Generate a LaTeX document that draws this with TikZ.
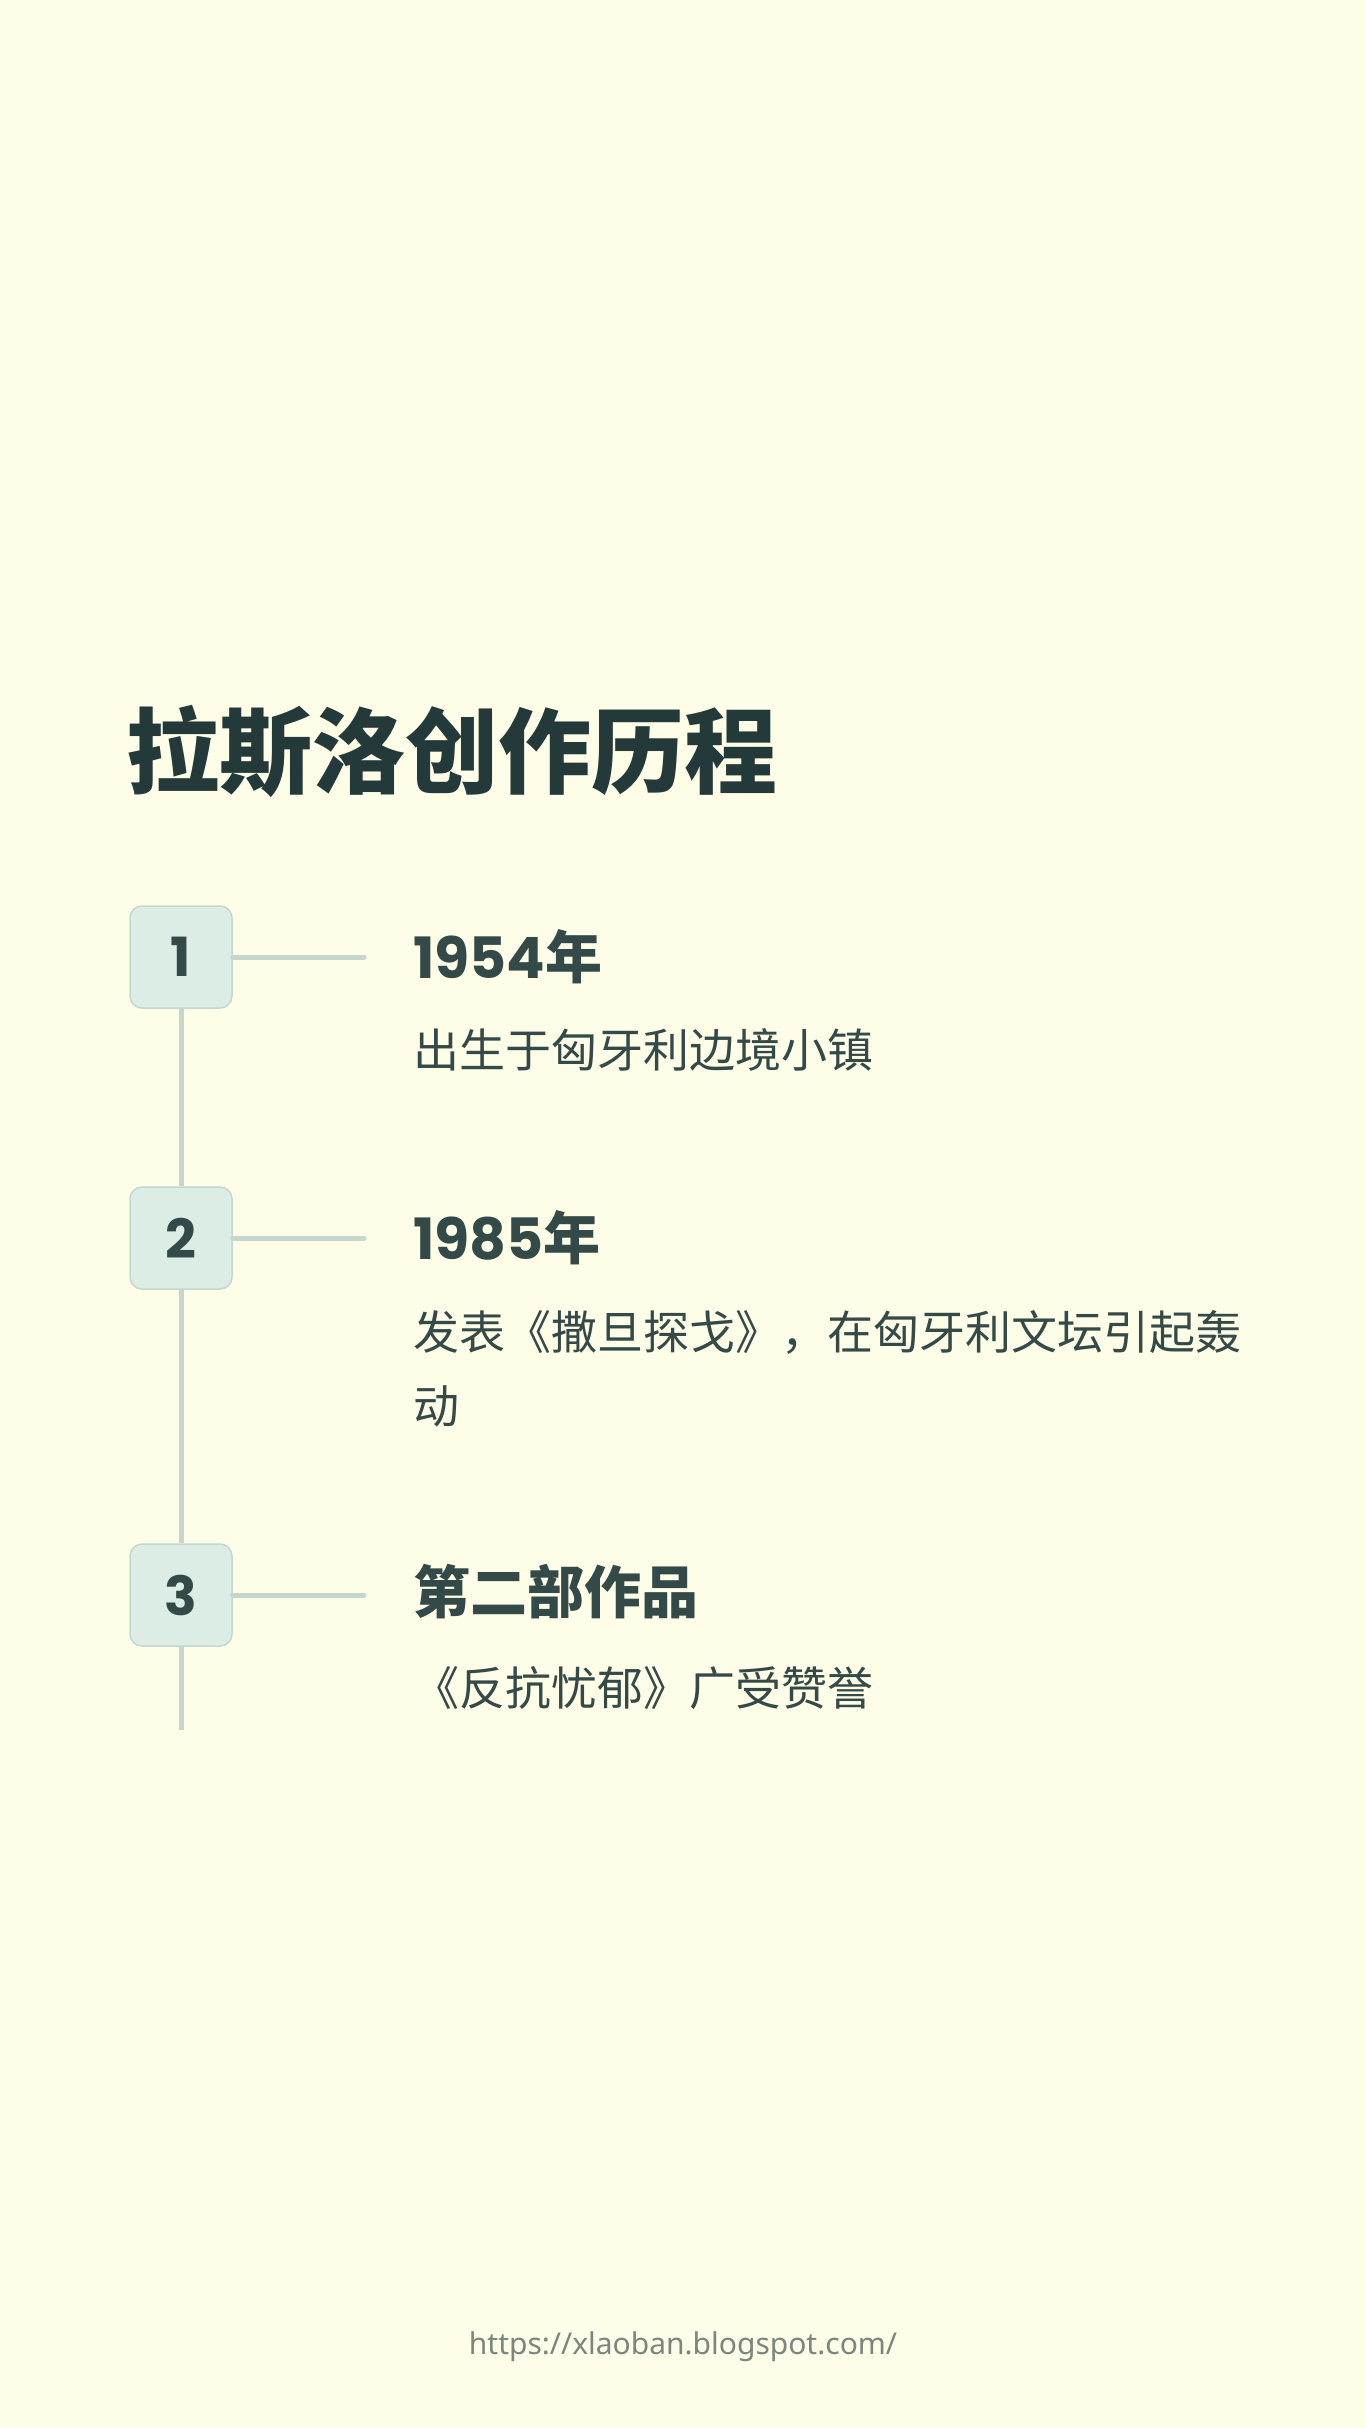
\documentclass[tikz,border=0pt]{standalone}
\usepackage{fontspec}
\setmainfont{Noto Sans CJK SC}
\newfontfamily\numfont{Poppins}
\newfontfamily\urlfont{Noto Sans}
\usetikzlibrary{positioning}
\definecolor{bgcream}{HTML}{FEFDE7}
\definecolor{titleink}{HTML}{243A3A}
\definecolor{bodyink}{HTML}{344A48}
\definecolor{boxfill}{HTML}{DCEDE6}
\definecolor{boxedge}{HTML}{C3D8CE}
\definecolor{railcol}{HTML}{C5D7CD}
\definecolor{urlgray}{HTML}{7A8680}

\begin{document}
\begin{tikzpicture}[x=1pt,y=-1pt,
  stepnum/.style={draw=boxedge,line width=1.5pt,fill=boxfill,rounded corners=12pt,
    minimum size=102pt,inner sep=0pt,text=bodyink,font=\numfont\bfseries\fontsize{54}{54}\selectfont},
  rail/.style={railcol,line width=5pt},
  stub/.style={railcol,line width=5pt,line cap=round},
  heading/.style={anchor=west,inner sep=0pt,text=bodyink,font=\bfseries\fontsize{57}{57}\selectfont},
  detail/.style={anchor=west,inner sep=0pt,text=bodyink,align=left,font=\fontsize{46}{74}\selectfont}]
% page
\fill[bgcream] (0,0) rectangle (1366,2428);
\useasboundingbox (0,0) rectangle (1366,2428);

% title
\node[anchor=west,inner sep=0pt,text=titleink,font=\bfseries\fontsize{93}{93}\selectfont] (title) at (126,751) {拉斯洛创作历程};

% rail ends
\coordinate (railend) at (181,1730);
\coordinate (tip1) at (364,957);
\coordinate (tip2) at (364,1238);
\coordinate (tip3) at (364,1595);

% step boxes
\node[stepnum] (s1) at (181,957) {1};
\node[stepnum] (s2) at (181,1238) {2};
\node[stepnum] (s3) at (181,1595) {3};

\draw[rail] (s1.south) -- (s2.north);
\draw[rail] (s2.south) -- (s3.north);
\draw[rail] (s3.south) -- (railend);
\draw[stub] (s1.east) -- (tip1);
\draw[stub] (s2.east) -- (tip2);
\draw[stub] (s3.east) -- (tip3);

% entries
\node[heading] (h1) at (413,957) {{\numfont 1954}年};
\node[detail] (d1) at (413,1050) {出生于匈牙利边境小镇};
\node[heading] (h2) at (413,1238) {{\numfont 1985}年};
\node[detail] (d2) at (413,1369) {发表《撒旦探戈》，在匈牙利文坛引起轰\\动};
\node[heading] (h3) at (413,1592) {第二部作品};
\node[detail] (d3) at (413,1688) {《反抗忧郁》广受赞誉};

% footer
\node[text=urlgray,font=\urlfont\fontsize{30}{30}\selectfont] (url) at (683,2347) {https://xlaoban.blogspot.com/};
\end{tikzpicture}
\end{document}
